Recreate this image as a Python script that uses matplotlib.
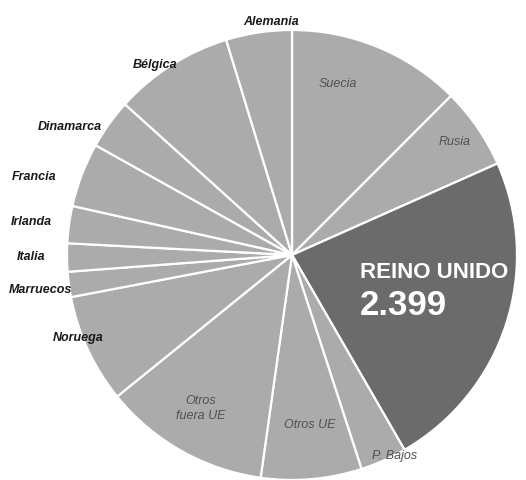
import matplotlib.pyplot as plt
import numpy as np

countries = ['Suecia', 'Rusia', 'REINO UNIDO', 'P. Bajos', 'Otros UE', 'Otros\nfuera UE',
             'Noruega', 'Marruecos', 'Italia', 'Irlanda', 'Francia', 'Dinamarca',
             'Bélgica', 'Alemania']
values = [1285, 600, 2399, 343, 743, 1228, 805, 186, 208, 274, 474, 368, 883, 486]

# label layout: (angle in degrees, radius, inside?)
labelPos = {
	'Suecia': (75, 0.79, True),
	'Rusia': (35, 0.88, True),
	'Otros\nfuera UE': (239, 0.79, True),
	'Otros UE': (-84, 0.755, True),
	'P. Bajos': (-63, 1.0, True),
	'Noruega': (201, 1.02, False),
	'Marruecos': (187.7, 1.13, False),
	'Italia': (180.2, 1.16, False),
	'Irlanda': (172.6, 1.17, False),
	'Francia': (163, 1.2, False),
	'Dinamarca': (149.8, 1.14, False),
	'Bélgica': (125.6, 1.045, False),
	'Alemania': (95, 1.045, False),
}

light = '#ababab'
dark = '#6b6b6b'
colors = [dark if c == 'REINO UNIDO' else light for c in countries]

fig = plt.figure(figsize=(5.26, 4.81), dpi=100)
ax = fig.add_axes([0.1274, 0.0, 0.8555, 0.9356])
ax.pie(values, colors=colors, startangle=90, counterclock=False, radius=1,
       wedgeprops=dict(edgecolor='white', linewidth=1.6))
ax.set_xlim(-1, 1)
ax.set_ylim(-1, 1)
ax.set_aspect('equal')
ax.axis('off')

font = ['Liberation Sans', 'DejaVu Sans']
for name, (ang, r, inside) in labelPos.items():
	x = r * np.cos(np.radians(ang))
	y = r * np.sin(np.radians(ang))
	ax.text(x, y, name, ha='center', va='center', fontsize=9, style='italic',
	        weight='normal' if inside else 'bold', family=font,
	        color='#505050' if inside else '#1a1a1a', linespacing=1.3)

ax.text(0.30, -0.075, 'REINO UNIDO', ha='left', va='center', fontsize=16,
        weight='bold', family=font, color='white')
ax.text(0.30, -0.22, f'{values[2]:,}'.replace(',', '.'), ha='left', va='center',
        fontsize=25, weight='bold', family=font, color='white')

fig.savefig('out.png', dpi=100)
